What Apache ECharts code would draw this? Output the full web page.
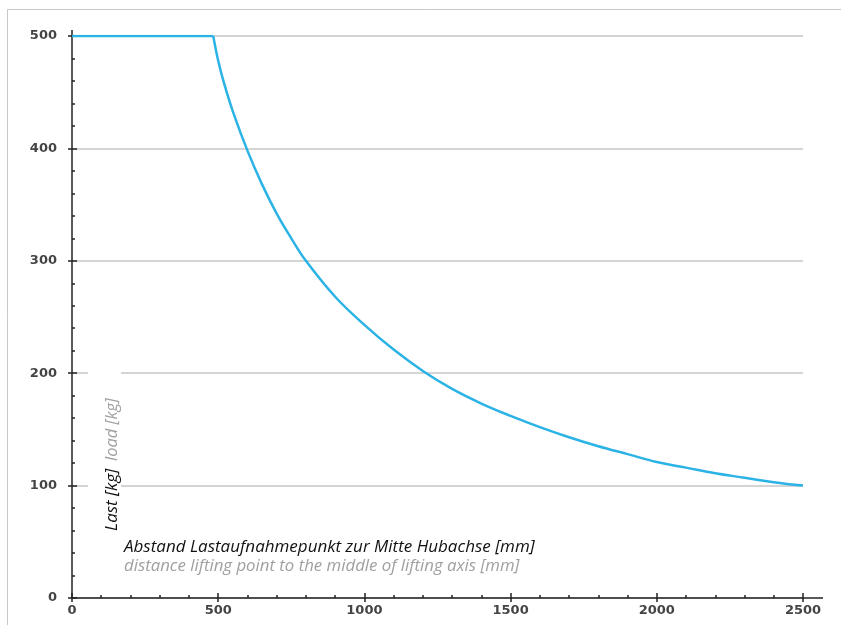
<!DOCTYPE html>
<html>
<head>
<meta charset="utf-8">
<script src="https://cdn.jsdelivr.net/npm/echarts@6/dist/echarts.min.js"></script>
<style>
  html, body { margin: 0; padding: 0; background: #fff; }
  #chartBox { width: 841px; height: 625px; }
</style>
</head>
<body>
<div id="chartBox"></div>
<script>
// Abstand [mm] / Last [kg]
const distance = [0, 483, 500, 520, 550, 600, 650, 700, 750, 800, 900, 1000, 1100, 1200, 1300, 1400, 1500, 1600, 1700, 1800, 1900, 2000, 2100, 2200, 2300, 2400, 2500]
const load = [500, 500, 478, 458, 433, 398, 368, 342, 320, 300, 268, 243, 221, 202, 186, 173, 162, 152, 143, 135, 128, 121, 116, 111, 107, 103, 100]

const xTicks = [0, 500, 1000, 1500, 2000, 2500]
const yTicks = [0, 100, 200, 300, 400, 500]

const titleX = ['Abstand Lastaufnahmepunkt zur Mitte Hubachse [mm]', 'distance lifting point to the middle of lifting axis [mm]']
const titleY = ['Last [kg]', 'load [kg]']

const axisColor = '#222'
const curveColor = '#2bb3e6'
const labelStyle = {
  color: '#444',
  fontFamily: 'DejaVu Sans',
  fontSize: 13,
  fontWeight: 'bold',
  formatter: v => String(v)
}

const points = distance.map((d, i) => [d, load[i]])

let myChart = echarts.init(document.getElementById('chartBox'))

myChart.setOption({
  animation: false,
  grid: {
    left: 72,
    right: 38,
    top: 36,
    bottom: 27
  },
  xAxis: [
    {
      type: 'value',
      min: xTicks[0],
      max: xTicks[xTicks.length - 1],
      interval: 500,
      axisLine: { show: true, lineStyle: { color: axisColor, width: 1.5 } },
      axisTick: { show: true, inside: true, length: 5, lineStyle: { color: axisColor, width: 1.5 } },
      minorTick: { show: true, splitNumber: 5, length: 3, lineStyle: { color: axisColor, width: 1.5 } },
      axisLabel: Object.assign({ margin: 6 }, labelStyle),
      splitLine: { show: false }
    },
    {
      // outer half of the major ticks
      type: 'value',
      position: 'bottom',
      min: xTicks[0],
      max: xTicks[xTicks.length - 1],
      interval: 500,
      axisLine: { show: false },
      axisTick: { show: true, length: 4, lineStyle: { color: axisColor, width: 1.5 } },
      axisLabel: { show: false },
      splitLine: { show: false }
    }
  ],
  yAxis: [
    {
      type: 'value',
      min: yTicks[0],
      max: yTicks[yTicks.length - 1],
      interval: 100,
      axisLine: { show: true, lineStyle: { color: axisColor, width: 1.5 } },
      axisTick: { show: true, inside: true, length: 5, lineStyle: { color: axisColor, width: 1.5 } },
      minorTick: { show: true, splitNumber: 5, length: 3, lineStyle: { color: axisColor, width: 1.5 } },
      axisLabel: Object.assign({ margin: 15 }, labelStyle),
      splitLine: { show: true, lineStyle: { color: '#d4d4d4', width: 2 } }
    },
    {
      type: 'value',
      position: 'left',
      min: yTicks[0],
      max: yTicks[yTicks.length - 1],
      interval: 100,
      axisLine: { show: false },
      axisTick: { show: true, length: 4, lineStyle: { color: axisColor, width: 1.5 } },
      axisLabel: { show: false },
      splitLine: { show: false }
    }
  ],
  series: [
    {
      // flat part up to the corner
      type: 'line',
      showSymbol: false,
      lineStyle: { color: curveColor, width: 2.5 },
      data: points.slice(0, 2),
      z: 5
    },
    {
      type: 'line',
      smooth: 0.4,
      showSymbol: false,
      lineStyle: { color: curveColor, width: 2.5 },
      data: points.slice(1),
      z: 5
    }
  ]
})

// frame, axis overshoot and axis titles
const o = myChart.convertToPixel({ xAxisIndex: 0, yAxisIndex: 0 }, [0, 0])
const xEnd = myChart.convertToPixel({ xAxisIndex: 0 }, 2500)
const yTop = myChart.convertToPixel({ yAxisIndex: 0 }, 500)

myChart.setOption({
  graphic: [
    {
      type: 'rect',
      shape: { x: 7.5, y: 9.5, width: 900, height: 700 },
      style: { fill: 'none', stroke: '#c8c8c8', lineWidth: 1 },
      silent: true
    },
    {
      type: 'line',
      shape: { x1: xEnd, y1: o[1], x2: xEnd + 20, y2: o[1] },
      style: { stroke: axisColor, lineWidth: 1.5 }
    },
    {
      type: 'line',
      shape: { x1: o[0], y1: yTop, x2: o[0], y2: yTop - 6 },
      style: { stroke: axisColor, lineWidth: 1.5 }
    },
    {
      type: 'rect',
      shape: { x: 88, y: 362, width: 33, height: 172 },
      style: { fill: '#fff' },
      z: 3
    },
    {
      type: 'text',
      x: 112,
      y: 531,
      rotation: Math.PI / 2,
      z: 4,
      style: {
        text: titleY[0],
        fill: '#111',
        font: 'italic 17px "Open Sans"',
        textAlign: 'left',
        textVerticalAlign: 'middle'
      }
    },
    {
      type: 'text',
      x: 112,
      y: 461,
      rotation: Math.PI / 2,
      z: 4,
      style: {
        text: titleY[1],
        fill: '#a0a0a0',
        font: 'italic 16.5px "Open Sans"',
        textAlign: 'left',
        textVerticalAlign: 'middle'
      }
    },
    {
      type: 'text',
      x: 124,
      y: 547,
      z: 4,
      style: {
        text: titleX[0],
        fill: '#111',
        font: 'italic 17px "Open Sans"',
        textAlign: 'left',
        textVerticalAlign: 'middle'
      }
    },
    {
      type: 'text',
      x: 124,
      y: 566,
      z: 4,
      style: {
        text: titleX[1],
        fill: '#a0a0a0',
        font: 'italic 16.8px "Open Sans"',
        textAlign: 'left',
        textVerticalAlign: 'middle'
      }
    }
  ]
})
</script>
</body>
</html>
